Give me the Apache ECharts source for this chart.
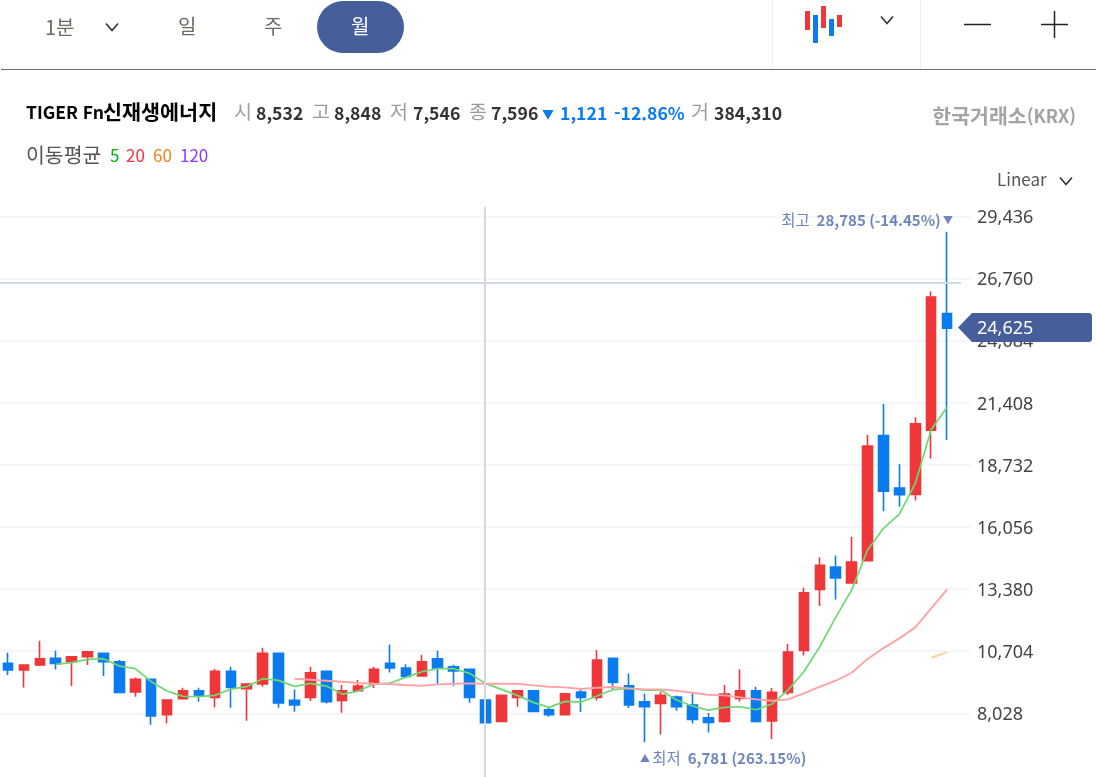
<!DOCTYPE html>
<html lang="ko"><head><meta charset="utf-8">
<style>html,body{margin:0;padding:0;background:#fff}#c{width:1096px;height:777px}</style>
<script src="https://cdn.jsdelivr.net/npm/echarts@6/dist/echarts.min.js"></script>
</head><body><div id="c"></div>
<script>
// [open, close, low, high]
const candles = [
[10181,9893,9678,10641],[9893,10109,9146,10109],[10109,10382,10066,11158],[10396,10181,9922,10727],
[10253,10468,9204,10468],[10468,10684,10109,10684],[10612,10253,9635,10655],[10253,8931,8888,10325],
[8945,9491,8744,9577],[9491,7910,7537,9491],[7968,8600,7594,8600],[8658,9003,8629,9132],
[9003,8787,8528,9132],[8715,9836,8284,9937],[9836,9146,8270,10037],[9089,9290,7709,9290],
[9290,10612,9175,10856],[10612,8471,8270,10612],[8586,8385,8097,9060],[8715,9779,8557,10037],
[9836,8528,8456,9865],[8586,9003,8054,9247],[9003,9204,8974,9462],[9290,9922,9118,10037],
[10181,9980,9793,11000],[9980,9620,9563,10138],[9635,10253,9606,10540],[10382,9980,9304,10727],
[10037,9850,9218,10123],[9922,8715,8485,9922],[8600,7623,7594,8600],[7681,8801,7652,8801],
[8715,9003,8313,9003],[9003,8112,8083,9003],[8183,7968,7882,8284],[7968,8873,7954,8902],
[8945,8715,8083,9060],[8715,10325,8586,10756],[10396,9362,9060,10396],[9218,8385,8255,9750],
[8528,8313,6781,8873],[8456,8801,7120,8959],[8730,8313,8140,8801],[8385,7767,7594,8902],
[7839,7637,7206,8040],[7680,8858,7622,9246],[8671,9002,8542,9921],[9002,7680,7637,9174],
[7694,8930,6918,9117],[8930,10669,8815,11014],[10741,13227,10525,13442],[13370,14405,12652,14750],
[14333,13859,12939,14836],[13643,14549,13629,15639],[14606,19549,14580,20023],[20006,17606,16744,21357],
[17735,17448,16931,18770],[17462,20509,17218,20796],[20236,25969,19014,26214],[25265,24625,19805,28785]
];
const n = null;
const ma5 = [n,n,n,10138,10210,10353,10382,10066,9951,9391,8988,8758,8744,8801,9074,9175,9520,9448,9189,9319,
9204,8859,8988,9290,9333,9577,9822,9951,9951,9750,9319,9060,8801,8500,8284,8543,8514,8773,9046,9103,
9031,9031,8600,8342,8169,8283,8312,8183,8427,9030,9821,10899,12163,13341,15066,15997,16614,17936,20264,21227];
const ma20 = [n,n,n,n,n,n,n,n,n,n,n,n,n,n,n,n,n,n,9520,9477,
9434,9391,9333,9304,9290,9247,9218,9276,9304,9319,9304,9304,9304,9232,9175,9146,9074,9132,9161,9103,
9060,9060,9003,8916,8830,8801,8714,8628,8571,8628,8887,9174,9433,9778,10367,10841,11258,11732,12551,13370];
const ma60 = [n,n,n,n,n,n,n,n,n,n,n,n,n,n,n,n,n,n,n,n,n,n,n,n,n,n,n,n,n,n,n,n,n,n,n,n,n,n,n,n,
n,n,n,n,n,n,n,n,n,n,n,n,n,n,n,n,n,n,10424,10669];
const categories = candles.map((_, i) => String(i)).concat(['']);
const yMin = 5352, yMax = 29436, yStep = 2676;

const FONT = '"Noto Sans","Noto Sans CJK KR",sans-serif';
const KR = '"Noto Sans CJK KR",sans-serif';
const INK = '#333333', GREY = '#9b9b9b', NAVY = '#465F9B', MARK = '#6F86BD';
const T = (text, x, y, size, fill, weight, align, fam) => ({
  type: 'text', x, y, z: 20,
  style: { text, fill, font: `${weight || 'normal'} ${size}px ${fam || KR}`, textAlign: align || 'left', textVerticalAlign: 'middle' }
});
const R = (x, y, w, h, fill, r) => ({ type: 'rect', z: 20, shape: { x, y, width: w, height: h, r: r || 0 }, style: { fill } });
const L = (x1, y1, x2, y2, stroke, lw) => ({ type: 'line', z: 15, shape: { x1, y1, x2, y2 }, style: { stroke, lineWidth: lw } });
const CHEV = (cx, cy, hw, hh, stroke) => ({ type: 'polyline', z: 20, shape: { points: [[cx - hw, cy - hh], [cx, cy + hh], [cx + hw, cy - hh]] }, style: { stroke, fill: 'none', lineWidth: 1.6 } });

const graphics = [
  // toolbar
  T('1분', 45, 27, 20, '#6b6b60'), CHEV(112, 27, 6, 3.5, '#333'),
  T('일', 178, 26, 20, '#6b6b60'), T('주', 264, 26, 20, '#6b6b60'),
  R(317, 1, 87, 52, NAVY, 26), T('월', 351, 26, 20, '#ffffff'),
  L(772.5, 0, 772.5, 69, '#eef0f4', 1), L(920.5, 0, 920.5, 69, '#eef0f4', 1),
  R(805, 11, 5, 19, '#EF3639'), R(813, 15, 5, 28, '#0A7CEF'), R(821, 6, 5, 22, '#EF3639'),
  R(829, 19, 5, 17, '#0A7CEF'), R(837, 15, 5, 12, '#EF3639'),
  CHEV(887, 20, 6, 3.5, '#333'),
  L(964, 24.5, 991, 24.5, '#222', 1.5), L(1041, 24.5, 1068, 24.5, '#222', 1.5), L(1054.5, 11, 1054.5, 38, '#222', 1.5),
  L(1, 69.5, 1096, 69.5, '#666b70', 1.2),
  // quote row
  { type: 'text', x: 26, y: 112, z: 20, style: { text: '{a|TIGER Fn}{k|신재생에너지}', textVerticalAlign: 'middle',
    rich: { a: { font: `bold 17.5px ${KR}`, fill: '#000' }, k: { font: `bold 20.7px ${KR}`, fill: '#000' } } } },
  T('시', 234, 112, 19.5, GREY), T('8,532', 256, 113, 17.6, INK, 'bold'),
  T('고', 312, 112, 19.5, GREY), T('8,848', 334, 113, 17.6, INK, 'bold'),
  T('저', 390, 112, 19.5, GREY), T('7,546', 413, 113, 17.6, INK, 'bold'),
  T('종', 469, 112, 19.5, GREY), T('7,596', 491, 113, 17.6, INK, 'bold'),
  T('▼', 542, 114, 12, '#0A7CEF'), T('1,121', 560, 113, 17.6, '#0A7CEF', 'bold'),
  T('-12.86%', 614, 113, 17.6, '#0A7CEF', 'bold'),
  T('거', 691, 112, 19.5, GREY), T('384,310', 714, 113, 17.6, INK, 'bold'),
  { type: 'text', x: 1076, y: 116, z: 20, style: { text: '{k|한국거래소}{a|(KRX)}', textAlign: 'right', textVerticalAlign: 'middle',
    rich: { k: { font: `bold 20.5px ${KR}`, fill: '#a3a3a3' }, a: { font: `bold 18px ${KR}`, fill: '#a3a3a3' } } } },
  // moving-average legend
  T('이동평균', 26, 155, 20.5, '#555'), T('5', 110, 156, 17, '#00B400'), T('20', 126, 156, 17, '#F5333F'),
  T('60', 153, 156, 17, '#F58220'), T('120', 180, 156, 17, '#8B3DFF'),
  T('Linear', 997, 180, 17, '#555'), CHEV(1066, 181, 6, 3.5, '#333'),
  // crosshair
  L(485, 207, 485, 777, '#D3D7E2', 2), L(0, 283, 961, 283, '#D3D7E2', 2),
  // high / low callouts
  { type: 'text', x: 953, y: 220, z: 20, style: {
    text: '{a|최고  }{b|28,785 (-14.45%)}{c| ▼}', textAlign: 'right', textVerticalAlign: 'middle',
    rich: { a: { font: `15.5px ${KR}`, fill: MARK }, b: { font: `bold 15px ${KR}`, fill: MARK }, c: { font: `10px ${KR}`, fill: MARK } } } },
  { type: 'text', x: 640, y: 758, z: 20, style: {
    text: '{c|▲ }{a|최저  }{b|6,781 (263.15%)}', textAlign: 'left', textVerticalAlign: 'middle',
    rich: { a: { font: `15.5px ${KR}`, fill: MARK }, b: { font: `bold 15px ${KR}`, fill: MARK }, c: { font: `10px ${KR}`, fill: MARK } } } },
  // current price tag
  { type: 'polygon', z: 20, shape: { points: [[958, 327.5], [972, 313], [1090, 313], [1092, 315], [1092, 340], [1090, 342], [972, 342]] }, style: { fill: NAVY } },
  T('24,625', 977, 329, 18, '#fff', 'normal', 'left', FONT)
];

const chart = echarts.init(document.getElementById('c'), null, { renderer: 'canvas' });
const lineSeries = (name, data, color, w) => ({
  type: 'line', name, data, showSymbol: false, symbol: 'none', connectNulls: false, z: 5,
  lineStyle: { color, width: w }, itemStyle: { color }, smooth: false, silent: true
});
chart.setOption({
  animation: false,
  backgroundColor: '#fff',
  grid: { left: -1.5, width: 972.5, top: 216.7, height: 558.7, containLabel: false },
  xAxis: { type: 'category', data: categories, boundaryGap: true,
    axisLine: { show: false }, axisTick: { show: false }, axisLabel: { show: false }, splitLine: { show: false } },
  yAxis: { type: 'value', position: 'right', min: yMin, max: yMax, interval: yStep, scale: false,
    axisLine: { show: false }, axisTick: { show: false },
    splitLine: { show: true, showMinLine: false, lineStyle: { color: '#f4f6f9', width: 2 } },
    axisLabel: { showMinLabel: false, inside: false, margin: 6, color: '#444', fontFamily: FONT, fontSize: 18,
      rich: { v: { padding: [3, 0, 0, 0], color: '#444', fontFamily: FONT, fontSize: 18 } },
      formatter: v => '{v|' + v.toLocaleString('en-US') + '}' } },
  series: [
    { type: 'candlestick', name: 'price', data: candles, barWidth: 10, z: 3,
      itemStyle: { color: '#EF3639', color0: '#0A7CEF', borderColor: '#EF3639', borderColor0: '#0A7CEF', borderWidth: 1.6 } },
    lineSeries('MA5', ma5, '#6FD872', 1.7),
    lineSeries('MA20', ma20, '#FFA3A6', 1.9),
    lineSeries('MA60', ma60, '#FFD29C', 1.9)
  ],
  graphic: graphics
});
</script></body></html>
